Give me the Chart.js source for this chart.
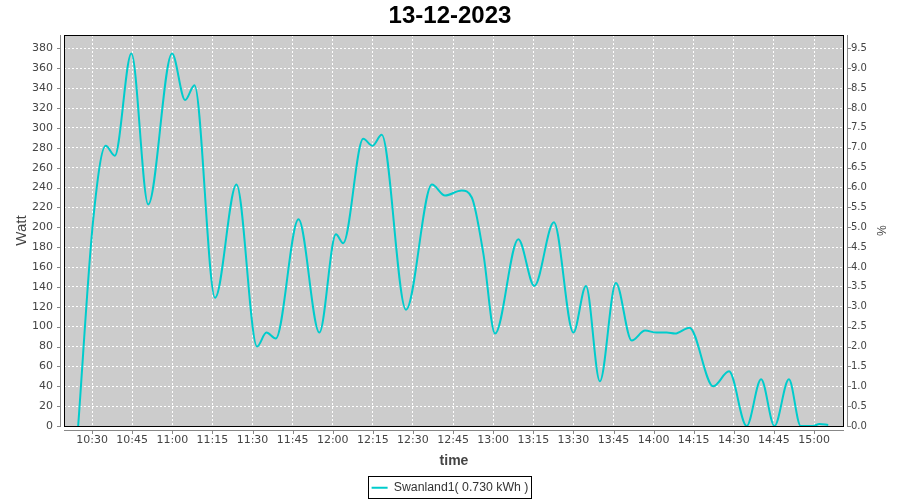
<!DOCTYPE html>
<html>
<head>
<meta charset="utf-8">
<script src="https://cdn.jsdelivr.net/npm/chart.js@4.4.0/dist/chart.umd.min.js"></script>
<style>
html,body{margin:0;padding:0;background:#ffffff;}
#c{display:block;}
</style>
</head>
<body>
<canvas id="c" width="900" height="500"></canvas>
<script>
// ---------- data ----------
const chartTitle = '13-12-2023';
const seriesName = 'Swanland1( 0.730 kWh )';
const xAxisTitle = 'time';
const yAxisTitle = 'Watt';
const y2AxisTitle = '%';

const times = [
  '10:24:48','10:30:24','10:35:06','10:38:30','10:44:42','10:51:00','10:59:54',
  '11:04:48','11:08:18','11:16:00','11:24:00','11:31:42','11:35:12','11:38:42',
  '11:47:12','11:55:00','12:01:12','12:03:54','12:11:24','12:14:54','12:18:18',
  '12:27:24','12:37:06','12:42:00','12:48:12','12:52:00','12:56:18','13:00:42',
  '13:09:24','13:15:24','13:22:42','13:30:00','13:34:42','13:39:54','13:45:54',
  '13:51:48','13:56:48','14:01:06','14:04:54','14:08:00','14:13:24','14:22:18',
  '14:28:12','14:34:48','14:40:12','14:45:12','14:50:36','14:55:00','14:59:36',
  '15:02:00','15:05:18'
];
const watts = [
  0, 207, 282, 272, 375, 223, 375,
  328, 343, 129, 243, 80, 94, 88,
  208, 94, 193, 184, 289, 282, 293,
  117, 243, 232, 237, 230, 174, 93,
  188, 141, 205, 94, 141, 45, 144,
  86, 96, 94, 94, 93, 99, 40,
  55, 0, 47, 0, 47, 0, 0,
  2, 1
];

const xTickLabels = ['10:30','10:45','11:00','11:15','11:30','11:45','12:00','12:15','12:30',
  '12:45','13:00','13:15','13:30','13:45','14:00','14:15','14:30','14:45','15:00'];
const wattTicks = [0,20,40,60,80,100,120,140,160,180,200,220,240,260,280,300,320,340,360,380];
const pctTickLabels = ['0.0','0.5','1.0','1.5','2.0','2.5','3.0','3.5','4.0','4.5',
  '5.0','5.5','6.0','6.5','7.0','7.5','8.0','8.5','9.0','9.5'];

// ---------- helpers / ranges ----------
function toMin(s){ const p = s.split(':').map(Number); return p[0]*60 + p[1] + (p[2]||0)/60; }
const X_MIN = toMin('10:19:30');
const X_MAX = toMin('15:11:12');
const WATT_MAX = 393.5;
const PCT_MAX = WATT_MAX / 40;

const PLOT_BOTTOM = 426;
const AXIS_GAP = 4;
const AXIS_COLOR = '#888888';
const LEGEND_SHIFT = 4;

const decorPlugin = {
  id: 'decor',
  afterLayout(chart){
    if (chart.legend){ chart.legend.top += LEGEND_SHIFT; chart.legend.bottom += LEGEND_SHIFT; }
  },
  beforeDraw(chart){
    const {ctx, chartArea:a} = chart;
    ctx.save();
    ctx.fillStyle = '#cccccc';
    ctx.fillRect(a.left, a.top, a.right - a.left, a.bottom - a.top);
    ctx.restore();
  },
  afterDraw(chart){
    const {ctx, chartArea:a, scales} = chart;
    ctx.save();
    // plot frame
    ctx.strokeStyle = '#000000';
    ctx.lineWidth = 1;
    ctx.strokeRect(a.left + 0.5, a.top + 0.5, a.right - a.left - 1, a.bottom - a.top);
    // axis lines (offset from plot)
    ctx.strokeStyle = AXIS_COLOR;
    ctx.beginPath();
    const lx = a.left - AXIS_GAP + 0.5;
    ctx.moveTo(lx, a.top); ctx.lineTo(lx, a.bottom + 1);
    scales.y.ticks.forEach(t => { const py = Math.round(scales.y.getPixelForValue(t.value)) + 0.5; ctx.moveTo(lx - 3.5, py); ctx.lineTo(lx, py); });
    const by = a.bottom + AXIS_GAP + 0.5;
    ctx.moveTo(a.left, by); ctx.lineTo(a.right, by);
    scales.x.ticks.forEach(t => { const px = Math.round(scales.x.getPixelForValue(t.value)) + 0.5; ctx.moveTo(px, by); ctx.lineTo(px, by + 3.5); });
    const rx = a.right + AXIS_GAP - 0.5;
    ctx.moveTo(rx, a.top); ctx.lineTo(rx, a.bottom + 1);
    scales.y1.ticks.forEach(t => { const py = Math.round(scales.y1.getPixelForValue(t.value)) + 0.5; ctx.moveTo(rx, py); ctx.lineTo(rx + 3.5, py); });
    ctx.stroke();
    // legend border
    const lg = chart.legend;
    if (lg && lg.legendHitBoxes && lg.legendHitBoxes.length){
      const hb = lg.legendHitBoxes[0];
      const rowTop = lg.top + lg.options.labels.padding;
      ctx.strokeStyle = '#000000';
      ctx.strokeRect(Math.round(hb.left) - 3.5, Math.round(rowTop) - 5.5, Math.round(hb.width) + 6, 12 + 10);
    }
    ctx.restore();
  }
};

new Chart(document.getElementById('c'), {
  type: 'line',
  data: {
    datasets: [{
      label: seriesName,
      data: times.map((t, i) => ({x: toMin(t), y: watts[i]})),
      borderColor: '#00cccc',
      backgroundColor: '#00cccc',
      borderWidth: 2,
      pointRadius: 0,
      pointHoverRadius: 0,
      cubicInterpolationMode: 'monotone',
      fill: false,
      yAxisID: 'y'
    }]
  },
  options: {
    responsive: false,
    animation: false,
    devicePixelRatio: 1,
    events: [],
    layout: {padding: 0},
    plugins: {
      title: {
        display: true, text: chartTitle, color: '#000000',
        font: {family: 'Liberation Sans', size: 24, weight: 'bold', lineHeight: 1.2},
        padding: {top: 1.6, bottom: 4.6}
      },
      legend: {
        display: true, position: 'bottom',
        labels: {
          usePointStyle: true, pointStyle: 'line', pointStyleWidth: 16,
          color: '#333333', font: {family: 'Liberation Sans', size: 12.3}, padding: 10
        }
      },
      tooltip: {enabled: false}
    },
    scales: {
      x: {
        type: 'linear', position: 'bottom', min: X_MIN, max: X_MAX,
        afterBuildTicks: s => { s.ticks = xTickLabels.map(l => ({value: toMin(l)})); },
        afterFit: s => { s.height = 500 - PLOT_BOTTOM - s.chart.legend.height; },
        ticks: {callback: (v, i) => xTickLabels[i], color: '#444444',
          font: {family: 'DejaVu Sans', size: 11}, padding: 8, maxRotation: 0, autoSkip: false},
        grid: {color: '#ffffff', lineWidth: 1, drawTicks: false},
        border: {display: false, dash: [2, 2]},
        title: {display: true, text: xAxisTitle, color: '#444444',
          font: {family: 'Liberation Sans', size: 14, weight: 'bold', lineHeight: 1.0}, padding: {top: 0, bottom: 0}}
      },
      y: {
        type: 'linear', position: 'left', min: 0, max: WATT_MAX,
        afterBuildTicks: s => { s.ticks = wattTicks.map(v => ({value: v})); },
        afterFit: s => { s.width = 64; },
        ticks: {callback: (v, i) => String(wattTicks[i]), color: '#444444',
          font: {family: 'DejaVu Sans', size: 11}, padding: 11},
        grid: {color: '#ffffff', lineWidth: 1, drawTicks: false},
        border: {display: false, dash: [2, 2]},
        title: {display: true, text: yAxisTitle, color: '#444444',
          font: {family: 'Liberation Sans', size: 15, lineHeight: 1.2}, padding: {top: 13}}
      },
      y1: {
        type: 'linear', position: 'right', min: 0, max: PCT_MAX,
        afterBuildTicks: s => { s.ticks = pctTickLabels.map(l => ({value: parseFloat(l)})); },
        afterFit: s => { s.width = 56; },
        ticks: {callback: (v, i) => pctTickLabels[i], color: '#444444',
          font: {family: 'DejaVu Sans', size: 10}, padding: 7},
        grid: {drawOnChartArea: false, drawTicks: false},
        border: {display: false},
        title: {display: true, text: y2AxisTitle, color: '#444444',
          font: {family: 'Liberation Sans', size: 12, lineHeight: 1.2}, padding: {top: 12.8}}
      }
    }
  },
  plugins: [decorPlugin]
});
</script>
</body>
</html>
